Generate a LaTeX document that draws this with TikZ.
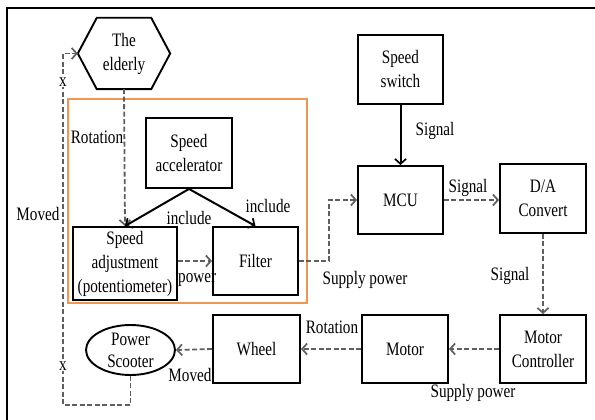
\documentclass[tikz,border=0pt]{standalone}
\usepackage{fontspec}
\setmainfont{Liberation Serif}[FakeStretch=0.8]
\usetikzlibrary{arrows.meta,shapes.geometric,calc}
\definecolor{boxorange}{RGB}{240,150,80}
\definecolor{dashgray}{RGB}{95,95,95}
\begin{document}
\begin{tikzpicture}[x=1pt,y=-1pt,
  every node/.style={font=\fontsize{19}{24}\selectfont},
  box/.style={draw=black,line width=1.9pt,align=center,inner sep=0pt},
  lbl/.style={inner sep=0pt},
  tip/.style={-{Straight Barb[length=5pt,width=11pt,line width=1.7pt]}},
  dsh/.style={draw=dashgray,line width=1.8pt,dash pattern=on 5pt off 2.5pt,tip},
  sol/.style={draw=black,line width=2pt,tip},
  xmark/.style={fill=white,inner sep=0.3pt,font=\fontsize{19}{19}\selectfont}
]
\useasboundingbox (0,0) rectangle (595,420);
% frame (top and left)
\draw[line width=1.8pt] (595,8) -- (7,8) -- (7,420);
% orange group
\draw[boxorange,line width=1.6pt] (68,99) rectangle (307,303);

% nodes
\node[align=center,minimum width=92pt,minimum height=71pt,inner sep=0pt] (elderly) at (124,53.5) {The\\elderly};
\draw[line width=1.9pt] (elderly.west) -- ($(elderly.north west)+(19,0)$) -- ($(elderly.north east)+(-19,0)$) -- (elderly.east) -- ($(elderly.south east)+(-19,0)$) -- ($(elderly.south west)+(19,0)$) -- cycle;

\node[box,minimum width=86pt,minimum height=70pt] (accel) at (189,153) {Speed\\accelerator};
\node[box,minimum width=104pt,minimum height=73pt] (speedadj) at (125,263.5) {Speed\\adjustment\\(potentiometer)};
\node[box,minimum width=85pt,minimum height=68pt] (filter) at (255.5,261) {Filter};
\node[box,minimum width=85pt,minimum height=69pt] (switch) at (400.5,69.5) {Speed\\switch};
\node[box,minimum width=85pt,minimum height=68pt] (mcu) at (400.5,200) {MCU};
\node[box,minimum width=86pt,minimum height=69pt] (da) at (543,198.5) {D/A\\Convert};
\node[box,minimum width=86pt,minimum height=68pt] (mc) at (543,349) {Motor\\Controller};
\node[box,minimum width=86pt,minimum height=68pt] (motor) at (405,349) {Motor};
\node[box,minimum width=87pt,minimum height=68pt] (wheel) at (256.5,349) {Wheel};
\node[draw,ellipse,line width=1.9pt,align=center,inner sep=0pt,minimum width=89pt,minimum height=50pt,font=\fontsize{19}{22}\selectfont] (scooter) at (130.5,350) {Power\\Scooter};

\coordinate (loopBL) at (63,405);

% connectors
\draw[dsh] (elderly.south) -- (speedadj.north);
\draw[sol] (accel.south) -- (speedadj.north);
\draw[sol] (accel.south) -- (filter.north);
\draw[dsh] (speedadj.east |- filter.west) -- (filter.west);
\draw[dsh] (filter.east) -- ++(30,0) |- (mcu.west);
\draw[sol] (switch.south) -- (mcu.north);
\draw[dsh] (mcu.east) -- (mcu.east -| da.west);
\draw[dsh] (da.south) -- (mc.north);
\draw[dsh] (mc.west) -- (motor.east);
\draw[dsh] (motor.west) -- (wheel.east);
\draw[dsh] (wheel.west) -- (scooter.east);
\draw[dsh] (scooter.south) |- (loopBL) |- (elderly.west);

% labels
\node[lbl] (l1) at (97,137) {Rotation};
\node[lbl] (l2) at (189,218) {include};
\node[lbl] (l3) at (268,206) {include};
\node[lbl,anchor=west] (l4) at (178,280) {power};
\node[lbl] (l5) at (365,280) {Supply power};
\node[lbl] (l6) at (435,131) {Signal};
\node[lbl] (l7) at (468,188) {Signal};
\node[lbl] (l8) at (510,276) {Signal};
\node[lbl] (l9) at (332,327) {Rotation};
\node[lbl] (l10) at (473,393) {Supply power};
\node[lbl] (l11) at (190,375) {Moved};
\node[lbl] (l12) at (38,214) {Moved};
\node[xmark] (x1) at (63,82) {x};
\node[xmark] (x2) at (63,366) {x};
\end{tikzpicture}
\end{document}
